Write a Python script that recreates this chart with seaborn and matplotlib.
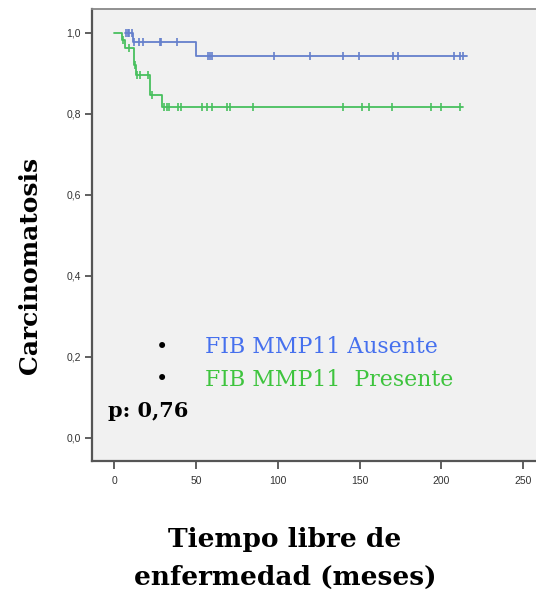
import numpy as np
import pandas as pd
import matplotlib
matplotlib.use("Agg")
import matplotlib.pyplot as plt
import seaborn as sns
from matplotlib.ticker import FuncFormatter

# Kaplan-Meier step curves (time in months, cumulative survival)
ausente_t = [6.5, 11.6, 50.0, 215.4]
ausente_s = [1.0, 0.977, 0.943, 0.943]
presente_t = [0.0, 4.9, 6.7, 11.8, 13.1, 21.8, 29.0, 213.3]
presente_s = [1.0, 0.983, 0.962, 0.921, 0.896, 0.847, 0.818, 0.818]

# Censored observations
ausente_cens = [7.2, 8.2, 9.2, 10.6, 12.3, 15.1, 17.7, 27.9, 28.5, 38.1,
                57.1, 58.5, 59.9, 97.9, 119.6, 139.6, 149.6, 170.6, 173.2,
                207.6, 211.5, 213.3]
presente_cens = [5.5, 9.0, 12.5, 14.1, 15.7, 20.8, 23.2, 30.4, 32.0, 33.4,
                 39.1, 40.6, 53.8, 56.5, 59.9, 68.7, 70.7, 85.0, 139.6, 151.6,
                 155.5, 169.6, 193.4, 199.5, 211.5]

x_ticks = [0, 50, 100, 150, 200, 250]
y_ticks = [0.0, 0.2, 0.4, 0.6, 0.8, 1.0]

c_aus_line, c_aus_txt = "#6580cc", "#4670ee"
c_pre_line, c_pre_txt = "#48c05e", "#3ec43e"

sns.set_theme(style="white")
plt.rcParams["font.family"] = ["Liberation Sans", "DejaVu Sans"]
plt.rcParams["text.color"] = "black"

fig = plt.figure(figsize=(5.36, 5.97), dpi=100)
ax = fig.add_axes([92 / 536, 136 / 597, 1 - 92 / 536, (461 - 9) / 597])
ax.set_facecolor("#f1f1f1")


def level_at(times, levels, t):
    idx = np.searchsorted(times, t, side="right") - 1
    return levels[max(idx, 0)]


for t, s, cens, col in [(ausente_t, ausente_s, ausente_cens, c_aus_line),
                         (presente_t, presente_s, presente_cens, c_pre_line)]:
    curve = pd.DataFrame({"t": t, "s": s})
    sns.lineplot(data=curve, x="t", y="s", ax=ax, color=col, lw=1.3,
                 drawstyle="steps-post", estimator=None, sort=False)
    marks = pd.DataFrame({"t": cens,
                          "s": [level_at(t, s, c) for c in cens]})
    sns.scatterplot(data=marks, x="t", y="s", ax=ax, marker="|", s=36,
                    color=col, linewidth=1.2, zorder=3)

ax.set_xlim(-13.6, 257.8)
ax.set_ylim(-0.057, 1.059)
ax.set_xticks(x_ticks)
ax.set_yticks(y_ticks)
ax.yaxis.set_major_formatter(FuncFormatter(lambda v, p: f"{v:.1f}".replace(".", ",")))
ax.set_xlabel("")
ax.set_ylabel("")
ax.tick_params(axis="both", which="major", direction="out", length=5, width=1.2,
               color="#444444", labelsize=7.5, labelcolor="#333333",
               left=True, bottom=True, pad=3)
ax.tick_params(axis="x", length=6, pad=5)
for side in ["left", "bottom"]:
    ax.spines[side].set_color("#555555")
    ax.spines[side].set_linewidth(1.6)
ax.spines["top"].set_color("#888888")
ax.spines["top"].set_linewidth(1.3)
ax.spines["right"].set_visible(False)

serif = ["DejaVu Serif"]
fig.text(30 / 536, 1 - 265 / 597, "Carcinomatosis", rotation=90, ha="center",
         va="center", fontsize=18, fontweight="bold", family=serif,
         color="black")
fig.text(285 / 536, 1 - 540 / 597, "Tiempo libre de", ha="center", va="center",
         fontsize=19, fontweight="bold", family=serif, color="black")
fig.text(285 / 536, 1 - 577 / 597, "enfermedad (meses)", ha="center",
         va="center", fontsize=19, fontweight="bold", family=serif,
         color="black")

fig.text(162 / 536, 1 - 347 / 597, "•", ha="center", va="center",
         fontsize=15, color="black", family=serif)
fig.text(162 / 536, 1 - 380 / 597, "•", ha="center", va="center",
         fontsize=15, color="black", family=serif)
fig.text(205 / 536, 1 - 347 / 597, "FIB MMP11 Ausente", ha="left",
         va="center", fontsize=15.8, color=c_aus_txt, family=serif)
fig.text(205 / 536, 1 - 380 / 597, "FIB MMP11  Presente", ha="left",
         va="center", fontsize=15.8, color=c_pre_txt, family=serif)
fig.text(108 / 536, 1 - 411 / 597, "p: 0,76", ha="left", va="center",
         fontsize=15, fontweight="bold", color="black", family=serif)

fig.savefig("out.png", dpi=100)
